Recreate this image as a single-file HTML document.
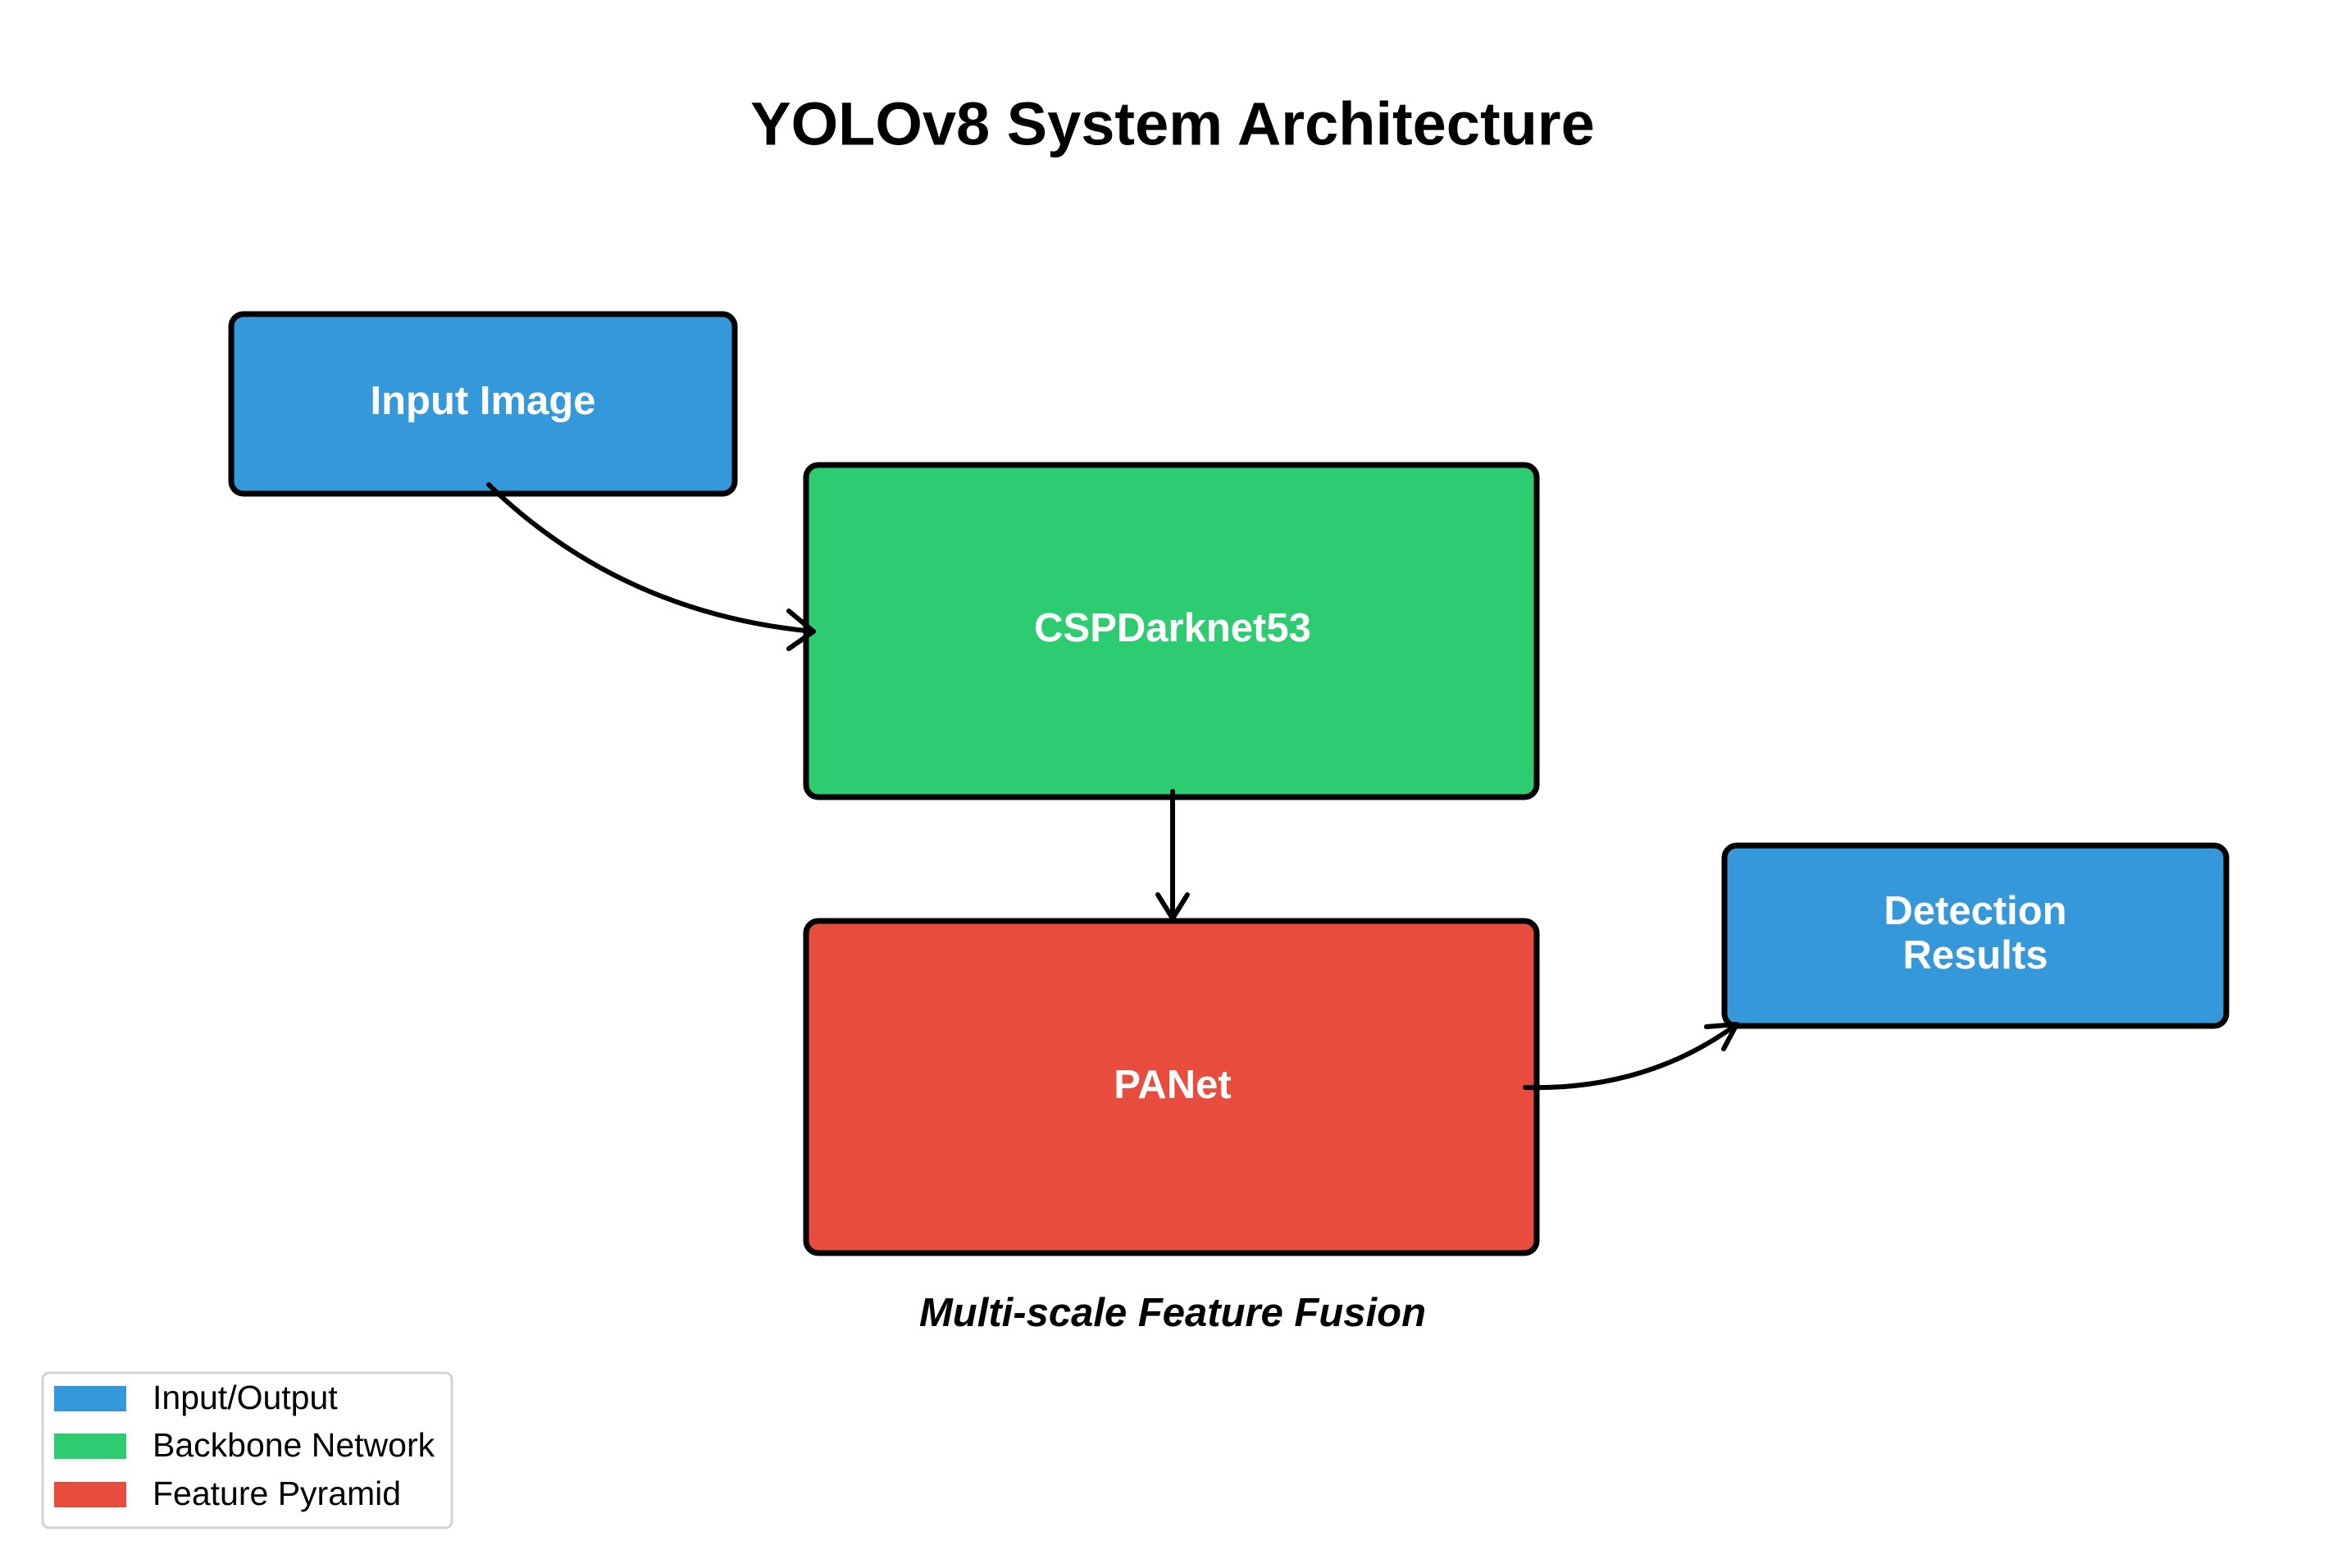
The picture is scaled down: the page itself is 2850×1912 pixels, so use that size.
<!DOCTYPE html>
<html><head><meta charset="utf-8"><style>
html,body{margin:0;padding:0;background:#fff;}
body{width:2850px;height:1907px;overflow:hidden;}
text{font-family:"Liberation Sans",sans-serif;}
</style></head><body>
<svg width="2850" height="1907" viewBox="0 0 2850 1907" xmlns="http://www.w3.org/2000/svg">
<text x="1430" y="157" text-anchor="middle" dominant-baseline="middle" font-size="74" font-weight="bold" fill="#000">YOLOv8 System Architecture</text>

<rect x="282" y="383" width="614" height="219" rx="15" fill="#3498db" stroke="#000" stroke-width="7"/>
<text x="589" y="492" text-anchor="middle" dominant-baseline="middle" font-size="49" font-weight="bold" fill="#fff">Input Image</text>

<rect x="983" y="567" width="891" height="405" rx="15" fill="#2ecc71" stroke="#000" stroke-width="7"/>
<text x="1430" y="769" text-anchor="middle" dominant-baseline="middle" font-size="49" font-weight="bold" fill="#fff">CSPDarknet53</text>

<rect x="983" y="1123" width="891" height="405" rx="15" fill="#e74c3c" stroke="#000" stroke-width="7"/>
<text x="1430" y="1326" text-anchor="middle" dominant-baseline="middle" font-size="49" font-weight="bold" fill="#fff">PANet</text>

<rect x="2103" y="1031" width="612" height="220" rx="15" fill="#3498db" stroke="#000" stroke-width="7"/>
<text x="2409" y="1114" text-anchor="middle" dominant-baseline="middle" font-size="49" font-weight="bold" fill="#fff">Detection</text>
<text x="2409" y="1168" text-anchor="middle" dominant-baseline="middle" font-size="49" font-weight="bold" fill="#fff">Results</text>

<g fill="none" stroke="#000" stroke-width="6" stroke-linecap="round" stroke-linejoin="round">
<path d="M596 591 Q758 748 992 770"/>
<path d="M962 745 L992 770 L962 791"/>
<path d="M1430 965 L1430 1120"/>
<path d="M1412 1091 L1430 1120 L1448 1091"/>
<path d="M1860 1326 Q2008 1330 2118 1249"/>
<path d="M2081 1252 L2118 1249 L2102 1279"/>
</g>

<text x="1430" y="1604" text-anchor="middle" dominant-baseline="middle" font-size="49" font-weight="bold" font-style="italic" fill="#000">Multi-scale Feature Fusion</text>

<rect x="52" y="1674" width="499" height="189" rx="8" fill="#fff" stroke="#d3d3d3" stroke-width="3"/>
<rect x="66" y="1690" width="88" height="31" fill="#3498db"/>
<rect x="66" y="1748" width="88" height="31" fill="#2ecc71"/>
<rect x="66" y="1807" width="88" height="31" fill="#e74c3c"/>
<text x="186" y="1707" dominant-baseline="middle" font-size="41" fill="#000">Input/Output</text>
<text x="186" y="1765" dominant-baseline="middle" font-size="41" fill="#000">Backbone Network</text>
<text x="186" y="1824" dominant-baseline="middle" font-size="41" fill="#000">Feature Pyramid</text>
</svg>
</body></html>
